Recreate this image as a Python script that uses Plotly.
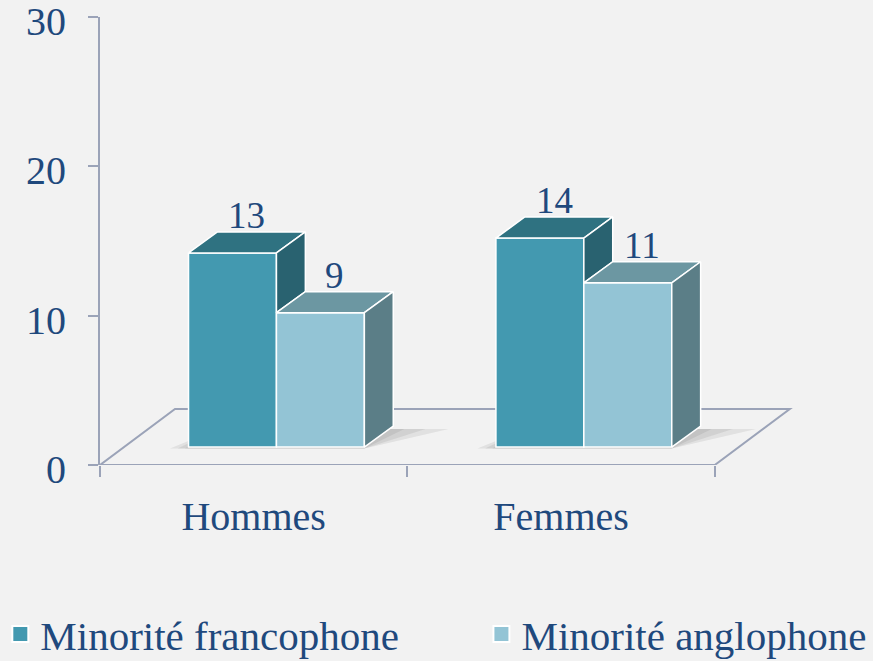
import plotly.graph_objects as go

# ---- data ----
categories = ["Hommes", "Femmes"]
franco = [13, 14]
anglo = [9, 11]
series_names = ["Minorité francophone", "Minorité anglophone"]
y_ticks = [0, 10, 20, 30]

# ---- style ----
FONT = "Liberation Serif"
TXT = "#1F497D"
AXC = "#9BA3B8"
BG = "#F2F2F2"
front_col = ["#4399B0", "#93C4D5"]
top_col = ["#2F7281", "#6C97A2"]
side_col = ["#296270", "#5B7E87"]

W = 0.286      # bar width (category units)
OX, OY = 0.074, 1.2     # offset of bar front plane from floor front edge
BDX, BDY = 0.094, 1.41  # bar depth vector
FDX, FDY = 0.244, 3.75  # floor depth vector

fig = go.Figure()
shapes = []

# floor (drawn below traces)
n = len(categories)
floor = f"M0,0 L{n},0 L{n+FDX},{FDY} L{FDX},{FDY} Z"
shapes.append(dict(type="path", path=floor, xref="x", yref="y", layer="below",
                   line=dict(color=AXC, width=2), fillcolor="rgba(0,0,0,0)"))

series = [franco, anglo]
annotations = []
for s, vals in enumerate(series):
    xs = []
    for i, v in enumerate(vals):
        c = i + 0.5
        xl = c - W + OX + s * W
        xr = xl + W
        xs.append((xl + xr) / 2)
    fig.add_trace(go.Bar(x=xs, y=vals, base=[OY] * len(vals), width=[W] * len(vals),
                         marker=dict(color=front_col[s], line=dict(color="white", width=1.5)),
                         showlegend=False, hoverinfo="skip"))

# soft shadows on the floor
for i in range(n):
    c = i + 0.5
    xl = c - W + OX
    xr = xl + 2 * W
    for k, g in enumerate([0.06, 0.035, 0.012]):
        p = (f"M{xl-g},{OY-0.1} L{xr},{OY-0.1} L{xr+BDX+g*3},{OY+BDY-0.2} "
             f"L{xl+BDX},{OY+BDY-0.2} Z")
        shapes.append(dict(type="path", path=p, xref="x", yref="y", layer="below",
                           line=dict(width=0), fillcolor="rgba(60,60,60,0.09)"))

# top and side faces + labels
for i in range(n):
    c = i + 0.5
    for s, vals in enumerate(series):
        v = vals[i]
        xl = c - W + OX + s * W
        xr = xl + W
        t = OY + v
        fig.add_trace(go.Scatter(
            x=[xl, xr, xr + BDX, xl + BDX, xl], y=[t, t, t + BDY, t + BDY, t],
            fill="toself", fillcolor=top_col[s], mode="lines",
            line=dict(color="white", width=1.5), showlegend=False, hoverinfo="skip"))
        if s == 0:
            nb = OY + min(series[1][i], v)
        else:
            nb = OY
        fig.add_trace(go.Scatter(
            x=[xr, xr, xr + BDX, xr + BDX, xr], y=[nb, t, t + BDY, nb + BDY, nb],
            fill="toself", fillcolor=side_col[s], mode="lines",
            line=dict(color="white", width=1.5), showlegend=False, hoverinfo="skip"))
        annotations.append(dict(x=(xl + xr) / 2 + BDX / 2, y=t + BDY, xref="x", yref="y",
                                text=str(v), showarrow=False, yanchor="bottom", yshift=-6,
                                font=dict(family=FONT, size=37, color=TXT)))

# legend entries (one legend per entry for exact placement)
leg_x = [-0.141, 0.5395]
for s in range(2):
    fig.add_trace(go.Scatter(x=[None], y=[None], mode="markers", name=series_names[s],
                             legend="legend" if s == 0 else "legend2",
                             marker=dict(symbol="square", size=16, color=front_col[s],
                                         line=dict(color="white", width=2))))

leg_common = dict(orientation="h", xanchor="left", y=-0.378, yanchor="middle",
                  font=dict(family=FONT, size=41, color=TXT), bgcolor="rgba(0,0,0,0)")

fig.update_layout(
    width=873, height=661,
    margin=dict(l=100, r=66, t=17, b=196, autoexpand=False),
    paper_bgcolor=BG, plot_bgcolor=BG,
    barmode="overlay",
    shapes=shapes, annotations=annotations,
    font=dict(family=FONT, color=TXT),
    legend=dict(x=leg_x[0], **leg_common),
    legend2=dict(x=leg_x[1], **leg_common),
    xaxis=dict(range=[0, 2.3], showgrid=False, zeroline=False, showline=False,
               tickmode="array", tickvals=[i + 0.5 for i in range(n)], ticktext=categories,
               ticks="", ticklabelstandoff=24, ticklabeloverflow="allow",
               tickfont=dict(family=FONT, size=40, color=TXT),
               minor=dict(tickmode="array", tickvals=list(range(n + 1)), ticks="outside",
                          ticklen=11, tickwidth=2, tickcolor=AXC, showgrid=False)),
    yaxis=dict(range=[0, 30.001], showgrid=False, zeroline=False, showline=True,
               linecolor=AXC, linewidth=2, tickmode="array", tickvals=y_ticks,
               ticks="outside", ticklen=10, tickwidth=2, tickcolor=AXC,
               ticklabelstandoff=14, ticklabelshift=4, ticklabeloverflow="allow",
               tickfont=dict(family=FONT, size=40, color=TXT)),
)

fig.write_html("out.html", config={"displayModeBar": False},
               post_script="document.body.style.margin='0';"
                           "document.body.style.background='#F2F2F2';")
